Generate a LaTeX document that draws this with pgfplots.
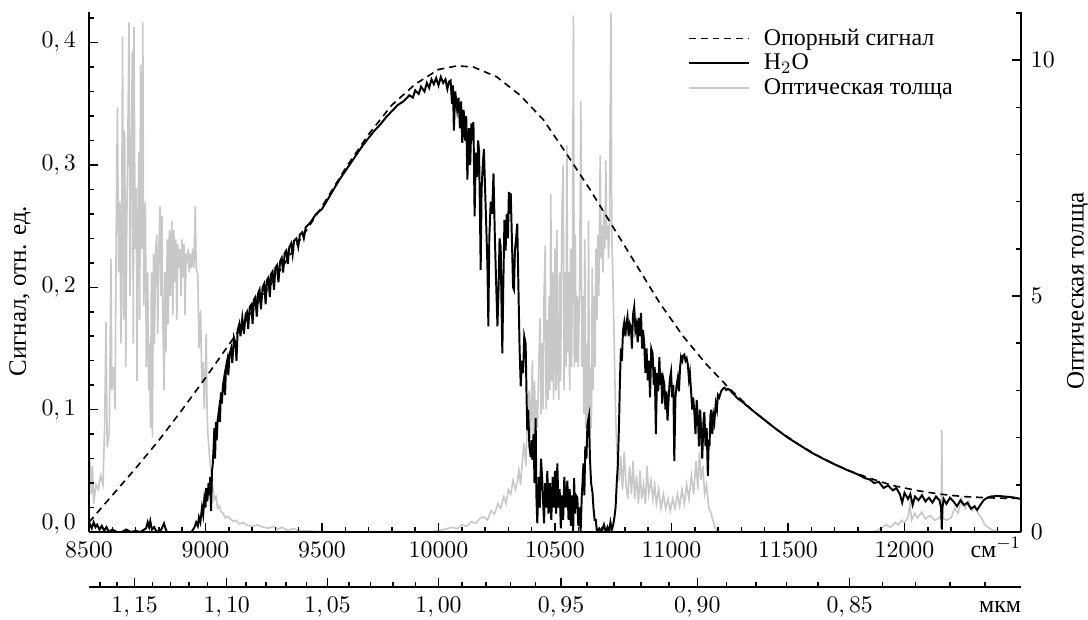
\documentclass[border=0pt]{standalone}
\usepackage{fontspec}
\setmainfont{Liberation Serif}
\usepackage{pgfplots}
\pgfplotsset{compat=1.18}
\definecolor{lgray}{RGB}{200,200,200}
\begin{document}
\begin{tikzpicture}
\path[use as bounding box] (-40.94pt,-40.02pt) rectangle (459.54pt,244.72pt);
% ---------- right axis: optical thickness ----------
\begin{axis}[at={(0,0)},anchor=south west,scale only axis,
  width=428.72pt,height=239.2pt,
  xmin=8500,xmax=12500,ymin=0,ymax=11.02,
  axis x line=none, axis y line*=right,
  tick align=inside,
  ytick={0,5,10}, minor ytick={1,2,3,4,6,7,8,9,11},
  major tick length=4pt, minor tick length=2.2pt,
  every tick/.style={black,line width=0.7pt},
  axis line style={line width=0.9pt},
  tick label style={font=\fontsize{11}{13}\selectfont},
  yticklabel style={xshift=1pt},
  clip mode=individual]
\addplot[lgray,line width=0.75pt] table {
8500 0.9
8505 1.5
8510 0.8
8515 1.4
8520 0.6
8530 1.0
8540 0.9
8550 1.2
8560 1.0
8567 2.2
8573 4.45
8578 1.8
8587 2.1
8591 4.0
8594 5.8
8598 3.0
8605 3.5
8612 2.6
8617 6.5
8622 9.0
8627 5.5
8632 7.0
8637 4.0
8640 6.0
8644 10.5
8648 4.5
8653 8.5
8658 3.5
8662 6.5
8667 8.5
8672 10.8
8676 5.0
8681 7.5
8686 10.2
8690 4.0
8693 10.7
8698 6.0
8703 7.3
8706 3.2
8710 6.0
8714 8.05
8718 4.5
8721 9.9
8726 6.0
8731 10.8
8735 4.8
8742 7.0
8746 3.5
8752 5.5
8756 3.0
8760 4.0
8764 2.2
8768 5.5
8772 2.0
8777 5.9
8781 4.0
8786 6.0
8791 6.3
8795 4.2
8800 6.0
8805 6.9
8809 5.0
8813 6.7
8817 4.5
8822 3.0
8826 5.5
8830 3.8
8836 6.2
8840 4.4
8845 6.4
8850 5.0
8855 6.6
8860 4.6
8864 6.4
8868 5.3
8872 6.2
8877 4.5
8881 6.1
8886 5.6
8890 6.0
8895 5.0
8899 6.2
8903 5.4
8908 6.1
8912 4.6
8917 5.9
8921 5.7
8926 6.0
8930 5.5
8935 5.9
8940 5.6
8945 6.0
8950 5.6
8956 6.9
8960 5.6
8967 5.45
8972 3.9
8979 4.7
8984 3.2
8989 3.6
8995 2.6
9003 4.2
9007 2.5
9010 2.1
9017 1.6
9024 1.27
9031 0.95
9038 0.69
9045 0.75
9052 0.5
9060 0.55
9066 0.44
9075 0.40
9085 0.30
9095 0.33
9108 0.27
9120 0.22
9130 0.25
9145 0.17
9160 0.2
9179 0.14
9200 0.12
9220 0.15
9249 0.1
9270 0.08
9290 0.12
9310 0.06
9330 0.1
9350 0.04
9380 0.07
9400 0.03
9450 0.02
9500 0.0
9950 0.0
10000 0.03
10030 0.06
10060 0.1
10080 0.07
10100 0.15
10120 0.12
10140 0.22
10160 0.18
10180 0.3
10195 0.32
10210 0.25
10225 0.45
10240 0.38
10255 0.6
10267 0.5
10280 0.75
10290 0.6
10300 0.9
10310 0.8
10320 1.1
10330 0.9
10338 1.06
10345 1.31
10352 1.0
10360 1.5
10367 1.88
10375 1.4
10382 2.5
10389 3.0
10395 2.0
10403 3.63
10407 1.9
10412 3.2
10416 2.2
10420 2.8
10425 2.2
10430 3.5
10436 4.53
10440 2.5
10445 4.0
10449 2.6
10453 5.0
10458 6.07
10462 2.6
10466 4.5
10470 2.8
10475 5.0
10478 3.0
10482 7.16
10486 3.2
10490 5.5
10494 2.8
10500 6.0
10504 3.0
10508 6.4
10512 3.5
10516 2.8
10520 5.5
10524 3.2
10530 6.8
10535 7.78
10539 3.0
10543 5.5
10547 3.5
10551 8.2
10555 3.8
10559 5.5
10563 3.0
10567 6.0
10571 3.5
10575 5.5
10579 10.95
10583 3.5
10587 6.3
10591 3.6
10595 5.0
10600 3.5
10606 5.5
10611 9.13
10615 3.5
10620 5.0
10624 2.5
10628 6.2
10632 2.2
10636 4.0
10640 1.8
10644 6.6
10648 2.0
10652 3.5
10656 2.2
10660 5.6
10664 3.0
10668 5.0
10672 3.5
10676 6.0
10680 4.5
10684 6.3
10688 5.0
10694 7.98
10698 5.8
10702 6.5
10706 5.5
10710 6.8
10714 6.0
10718 7.87
10722 6.2
10726 6.5
10730 5.8
10734 6.6
10740 11.0
10744 6.2
10748 5.5
10752 4.5
10756 3.5
10760 2.5
10765 1.8
10770 1.3
10776 1.08
10782 1.6
10790 0.9
10797 1.7
10805 1.0
10812 0.7
10820 1.4
10828 0.8
10835 1.5
10842 0.7
10850 1.2
10858 0.6
10865 1.3
10872 0.7
10880 1.0
10888 0.6
10895 1.4
10902 0.8
10912 1.1
10920 0.7
10928 1.0
10935 0.6
10945 0.9
10955 0.5
10965 0.8
10975 0.5
10985 0.7
10995 0.45
11005 0.7
11015 0.5
11025 0.8
11035 0.55
11045 0.9
11055 0.6
11065 1.0
11075 0.7
11085 1.2
11095 0.8
11105 1.5
11113 0.9
11120 1.7
11127 1.1
11135 1.4
11142 0.8
11150 1.0
11160 0.5
11170 0.4
11180 0.2
11190 0.05
11200 0.0
11850 0.0
11880 0.02
11900 0.08
11920 0.15
11940 0.1
11960 0.2
11975 0.15
11987 0.25
12000 0.2
12015 0.3
12023 0.6
12030 0.25
12044 0.4
12055 0.3
12073 0.42
12090 0.28
12110 0.35
12130 0.25
12150 0.3
12158 0.4
12160 2.16
12162 0.4
12165 0.3
12180 0.25
12200 0.3
12215 0.5
12230 0.4
12245 0.71
12260 0.5
12275 0.65
12290 0.45
12302 0.56
12315 0.4
12330 0.3
12345 0.15
12373 0.05
12400 0.0
12500 0.0
};
\end{axis}
% ---------- main axis: signal ----------
\begin{axis}[at={(0,0)},anchor=south west,scale only axis,
  width=428.72pt,height=239.2pt,
  xmin=8500,xmax=12500,ymin=0,ymax=0.425,
  axis x line*=bottom, axis y line*=left,
  tick align=inside,
  scaled x ticks=false, scaled y ticks=false,
  xtick={8500,9000,...,12500},
  xticklabels={$8500$,$9000$,$9500$,$10000$,$10500$,$11000$,$11500$,$12000$,\makebox[0pt][r]{см$^{-1}$}},
  minor xtick={8600,8700,8800,8900,9100,9200,9300,9400,9600,9700,9800,9900,10100,10200,10300,10400,10600,10700,10800,10900,11100,11200,11300,11400,11600,11700,11800,11900,12100,12200,12300,12400},
  ytick={0,0.1,0.2,0.3,0.4},
  yticklabels={{\raisebox{9pt}{$0,0$}},{$0,1$},{$0,2$},{$0,3$},{$0,4$}},
  minor ytick={0.02,0.04,0.06,0.08,0.12,0.14,0.16,0.18,0.22,0.24,0.26,0.28,0.32,0.34,0.36,0.38,0.42},
  major tick length=4pt, minor tick length=2.2pt,
  every tick/.style={black,line width=0.7pt},
  axis line style={line width=0.9pt},
  tick label style={font=\fontsize{11}{13}\selectfont},
  xticklabel style={anchor=base,yshift=-11.5pt},
  yticklabel style={xshift=-2.5pt},
  legend style={at={(0.6395,0.981)},anchor=north west,draw=none,fill=none,
    font=\fontsize{11}{12}\selectfont,row sep=-1.5pt,inner sep=1pt},
  legend cell align=left,
  legend image code/.code={\draw[#1] (0cm,0cm) -- (0.97cm,0cm);\path (0.97cm+4.6pt,0cm);},
  clip mode=individual]
\addplot[black,line width=0.75pt,dash pattern=on 3.2pt off 2.3pt] table {
8500 0.008
8600 0.030
8700 0.052
8800 0.075
8900 0.100
9000 0.126
9100 0.153
9200 0.180
9300 0.208
9400 0.237
9500 0.266
9600 0.297
9700 0.325
9800 0.349
9900 0.366
10000 0.378
10080 0.381
10150 0.380
10250 0.372
10350 0.357
10450 0.337
10550 0.309
10650 0.280
10750 0.249
10850 0.218
10950 0.187
11050 0.160
11150 0.137
11250 0.117
11350 0.099
11450 0.084
11550 0.071
11650 0.060
11750 0.051
11850 0.044
11950 0.038
12050 0.034
12150 0.031
12250 0.029
12350 0.028
12450 0.0275
12500 0.0275
};
\addlegendentry{Опорный сигнал}
\addplot[black,line width=0.9pt] table {
8500 0.004
8505 0.006
8512 0.003
8520 0.008
8528 0.004
8535 0.006
8545 0.002
8555 0.005
8565 0.001
8575 0.004
8585 0.0
8600 0.002
8620 0.0
8640 0.0
8660 0.002
8680 0.0
8700 0.001
8720 0.0
8745 0.003
8752 0.008
8758 0.004
8763 0.009
8770 0.002
8780 0.004
8790 0.0
8810 0.002
8822 0.007
8828 0.003
8835 0.0
8940 0.0
8953 0.004
8960 0.008
8967 0.005
8972 0.012
8978 0.008
8985 0.02
8990 0.014
8995 0.027
9000 0.02
9003 0.036
9008 0.025
9013 0.04
9017 0.03
9020 0.045
9024 0.017
9028 0.05
9031 0.055
9035 0.07
9038 0.085
9041 0.06
9045 0.09
9048 0.075
9052 0.091
9058 0.1
9062 0.09
9066 0.114
9070 0.105
9075 0.12
9080 0.126
9084 0.112
9088 0.135
9094 0.141
9098 0.128
9103 0.145
9110 0.15
9115 0.138
9122 0.159
9128 0.155
9133 0.14
9138 0.165
9145 0.17
9150 0.16
9158 0.175
9165 0.162
9172 0.178
9178 0.18
9183 0.166
9190 0.184
9197 0.186
9202 0.17
9208 0.19
9214 0.192
9220 0.176
9226 0.195
9232 0.198
9238 0.182
9245 0.2
9252 0.203
9258 0.186
9264 0.206
9270 0.208
9276 0.192
9282 0.211
9288 0.213
9294 0.198
9300 0.216
9307 0.218
9313 0.204
9320 0.221
9327 0.224
9333 0.212
9340 0.228
9347 0.23
9353 0.219
9360 0.233
9368 0.236
9374 0.227
9380 0.238
9390 0.240
9398 0.233
9405 0.243
9415 0.245
9422 0.240
9430 0.249
9440 0.251
9450 0.253
9475 0.260
9500 0.264
9525 0.272
9550 0.280
9575 0.288
9600 0.295
9625 0.302
9650 0.309
9675 0.316
9700 0.322
9725 0.328
9750 0.333
9775 0.339
9800 0.344
9825 0.349
9850 0.352
9875 0.357
9890 0.355
9900 0.361
9915 0.358
9925 0.364
9940 0.36
9950 0.367
9960 0.363
9970 0.37
9980 0.366
9990 0.371
10000 0.365
10010 0.372
10020 0.367
10030 0.370
10038 0.362
10045 0.368
10052 0.369
10058 0.35
10062 0.365
10066 0.328
10072 0.36
10080 0.345
10086 0.355
10092 0.33
10097 0.352
10102 0.318
10108 0.345
10114 0.32
10119 0.34
10124 0.288
10130 0.33
10136 0.3
10141 0.334
10145 0.32
10150 0.335
10155 0.258
10160 0.31
10165 0.29
10170 0.32
10174 0.312
10178 0.26
10181 0.214
10185 0.28
10190 0.3
10195 0.313
10200 0.28
10205 0.25
10210 0.217
10214 0.168
10218 0.24
10224 0.27
10230 0.26
10236 0.293
10242 0.24
10248 0.2
10253 0.168
10258 0.2
10262 0.24
10267 0.233
10270 0.19
10274 0.146
10278 0.2
10283 0.255
10288 0.23
10293 0.26
10298 0.24
10302 0.278
10306 0.26
10310 0.277
10315 0.24
10320 0.2
10324 0.198
10328 0.23
10333 0.24
10338 0.252
10343 0.2
10348 0.15
10353 0.119
10358 0.14
10363 0.13
10368 0.16
10374 0.154
10378 0.11
10381 0.083
10385 0.1
10390 0.07
10396 0.061
10400 0.075
10403 0.059
10408 0.08
10412 0.04
10417 0.093
10420 0.03
10424 0.007
10430 0.045
10435 0.02
10440 0.06
10446 0.04
10450 0.02
10453 0.007
10458 0.04
10463 0.02
10467 0.05
10472 0.015
10478 0.04
10484 0.01
10490 0.045
10495 0.02
10500 0.05
10505 0.015
10510 0.056
10515 0.02
10520 0.035
10525 0.003
10530 0.03
10535 0.01
10540 0.045
10546 0.02
10553 0.042
10558 0.01
10563 0.035
10568 0.005
10573 0.03
10578 0.0
10582 0.044
10586 0.015
10590 0.03
10596 0.028
10600 0.005
10605 0.02
10610 0.0
10615 0.03
10618 0.04
10622 0.056
10626 0.03
10630 0.07
10635 0.06
10639 0.087
10643 0.092
10646 0.095
10650 0.06
10655 0.04
10661 0.032
10665 0.02
10670 0.01
10675 0.01
10680 0.0
10690 0.003
10700 0.0
10710 0.006
10718 0.0
10725 0.004
10732 0.0
10738 0.008
10744 0.002
10750 0.006
10755 0.012
10760 0.02
10765 0.04
10770 0.056
10775 0.09
10779 0.126
10783 0.15
10787 0.14
10792 0.165
10797 0.171
10802 0.16
10806 0.17
10811 0.176
10816 0.16
10821 0.17
10826 0.167
10830 0.15
10835 0.178
10840 0.184
10845 0.165
10850 0.17
10855 0.155
10860 0.175
10865 0.16
10869 0.179
10874 0.15
10878 0.165
10883 0.154
10888 0.13
10893 0.15
10898 0.124
10903 0.14
10908 0.11
10913 0.15
10919 0.146
10924 0.12
10928 0.135
10933 0.08
10938 0.13
10943 0.115
10948 0.143
10952 0.12
10956 0.13
10960 0.105
10965 0.125
10969 0.121
10974 0.1
10978 0.115
10983 0.091
10988 0.11
10993 0.125
10998 0.131
11003 0.11
11008 0.12
11012 0.058
11017 0.11
11022 0.12
11027 0.126
11032 0.115
11037 0.135
11041 0.143
11046 0.14
11050 0.144
11055 0.145
11060 0.14
11065 0.142
11070 0.137
11075 0.125
11079 0.13
11084 0.115
11089 0.1
11093 0.11
11098 0.098
11103 0.08
11108 0.108
11113 0.095
11118 0.07
11123 0.1
11127 0.084
11132 0.06
11137 0.09
11141 0.098
11146 0.07
11151 0.085
11156 0.046
11160 0.075
11163 0.07
11167 0.095
11170 0.1
11175 0.08
11180 0.095
11184 0.09
11190 0.105
11195 0.1
11199 0.112
11205 0.11
11213 0.115
11220 0.117
11227 0.118
11235 0.116
11242 0.117
11250 0.116
11260 0.114
11270 0.112
11285 0.109
11300 0.107
11350 0.099
11400 0.0915
11450 0.084
11500 0.077
11550 0.071
11600 0.065
11650 0.060
11700 0.0553
11750 0.051
11800 0.047
11830 0.044
11850 0.043
11870 0.040
11890 0.041
11910 0.036
11930 0.038
11950 0.034
11965 0.036
11980 0.031
11990 0.024
12000 0.032
12015 0.027
12025 0.031
12035 0.022
12045 0.029
12060 0.026
12075 0.03
12090 0.025
12105 0.028
12120 0.024
12135 0.029
12150 0.026
12157 0.02
12160 0.002
12163 0.02
12168 0.027
12180 0.023
12195 0.028
12210 0.025
12225 0.021
12240 0.026
12255 0.022
12270 0.024
12285 0.019
12300 0.021
12312 0.018
12325 0.022
12340 0.026
12355 0.028
12370 0.029
12400 0.0295
12430 0.029
12460 0.0285
12500 0.027
};
\addlegendentry{H$_2$O}
\addlegendimage{lgray,line width=0.75pt}
\addlegendentry{Оптическая толща}
\node[rotate=90,font=\fontsize{11.5}{13}\selectfont] at (rel axis cs:-0.074,0.463) {Сигнал, отн. ед.};
\node[rotate=90,font=\fontsize{11.5}{13}\selectfont] at (rel axis cs:1.061,0.463) {Оптическая толща};
\end{axis}
% ---------- wavelength axis ----------
\begin{axis}[at={(0,-25.3pt)},anchor=south west,scale only axis,
  width=428.72pt,height=10pt,
  xmin=8500,xmax=12500,ymin=0,ymax=1,
  axis y line=none, axis x line*=bottom,
  tick align=inside,
  scaled x ticks=false,
  xtick={8695.65,9090.91,9523.81,10000,10526.32,11111.11,11764.71},
  xticklabels={{$1,15$},{$1,10$},{$1,05$},{$1,00$},{$0,95$},{$0,90$},{$0,85$}},
  minor xtick={8547.01,8620.69,8771.93,8849.56,8928.57,9009.01,9174.31,9259.26,9345.79,9433.96,9615.38,9708.74,9803.92,9900.99,10101.01,10204.08,10309.28,10416.67,10638.30,10752.69,10869.57,10989.01,11235.96,11363.64,11494.25,11627.91,11904.76,12048.19,12195.12,12345.68},
  extra x ticks={12500},
  extra x tick labels={\makebox[0pt][r]{мкм}},
  extra x tick style={major tick length=0pt},
  major tick length=4pt, minor tick length=2.2pt,
  every tick/.style={black,line width=0.7pt},
  axis line style={line width=0.9pt},
  tick label style={font=\fontsize{11}{13}\selectfont},
  xticklabel style={anchor=base,yshift=-11.5pt}]
\end{axis}
\end{tikzpicture}
\end{document}
